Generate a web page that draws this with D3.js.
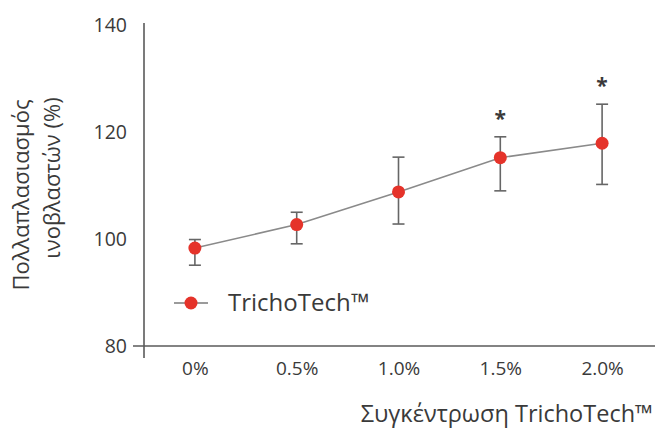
<!DOCTYPE html>
<html lang="el">
<head>
<meta charset="UTF-8">
<title>TrichoTech</title>
<script src="https://d3js.org/d3.v7.min.js"></script>
<style>
  body { margin: 0; background: #fff; }
  svg text { font-family: "Open Sans", "Noto Sans", sans-serif; fill: #3a3a3a; }
</style>
</head>
<body>
<div id="chart"></div>
<script>
// data
const categories = ["0%", "0.5%", "1.0%", "1.5%", "2.0%"];
const values = [98.3, 102.7, 108.8, 115.2, 117.9];
const errLow = [95.1, 99.1, 102.8, 109.0, 110.2];
const errHigh = [99.9, 105.0, 115.3, 119.1, 125.2];
const significant = [false, false, false, true, true];
const yTicks = [80, 100, 120, 140];
const seriesName = "TrichoTech™";
const xTitle = "Συγκέντρωση TrichoTech™";
const yTitle = ["Πολλαπλασιασμός", "ινοβλαστών (%)"];

const width = 655, height = 430;
const svg = d3.select("#chart").append("svg")
    .attr("width", width)
    .attr("height", height);

const x = d3.scalePoint()
    .domain(categories)
    .range([144, 653])
    .padding(0.5);
const y = d3.scaleLinear()
    .domain([80, 140])
    .range([346, 25]);

const axisColor = "#5a5a5a";

// axis lines (they cross at the corner)
svg.append("line")
    .attr("x1", x.range()[0]).attr("x2", x.range()[0])
    .attr("y1", y(140) - 2).attr("y2", y(80) + 12)
    .attr("stroke", axisColor).attr("stroke-width", 1.6);
svg.append("line")
    .attr("x1", x.range()[0] - 11).attr("x2", width)
    .attr("y1", y(80)).attr("y2", y(80))
    .attr("stroke", axisColor).attr("stroke-width", 1.6);

// tick labels
const yAxis = svg.append("g")
    .attr("transform", "translate(" + (x.range()[0] - 17) + ",0)")
    .call(d3.axisLeft(y).tickValues(yTicks).tickSize(0).tickPadding(0));
yAxis.select(".domain").remove();
yAxis.selectAll("text")
    .attr("font-size", 19.5)
    .attr("dy", "0.35em")
    .attr("fill", "#3a3a3a")
    .style("font-family", "'Open Sans', sans-serif");

const xAxis = svg.append("g")
    .attr("transform", "translate(0," + (y(80) + 15) + ")")
    .call(d3.axisBottom(x).tickSize(0).tickPadding(0));
xAxis.select(".domain").remove();
xAxis.selectAll("text")
    .attr("font-size", 19)
    .attr("dy", "0.71em")
    .attr("fill", "#3a3a3a")
    .style("font-family", "'Open Sans', sans-serif");

// axis titles
svg.append("text")
    .attr("x", 653)
    .attr("y", 422)
    .attr("text-anchor", "end")
    .attr("font-size", 23.5)
    .text(xTitle);

yTitle.forEach((t, i) => {
    svg.append("text")
        .attr("transform", "translate(" + (29 + i * 31) + "," + (i === 0 ? 195 : 178) + ") rotate(-90)")
        .attr("text-anchor", "middle")
        .attr("font-size", 22)
        .text(t);
});

const pts = categories.map((c, i) => ({
    c: c, v: values[i], lo: errLow[i], hi: errHigh[i], sig: significant[i]
}));

// connecting line
svg.append("path")
    .datum(pts)
    .attr("fill", "none")
    .attr("stroke", "#8a8a8a")
    .attr("stroke-width", 1.6)
    .attr("d", d3.line().x(d => x(d.c)).y(d => y(d.v)));

// error bars
const eb = svg.selectAll("g.err")
    .data(pts)
    .enter().append("g")
    .attr("class", "err")
    .attr("stroke", "#666")
    .attr("stroke-width", 1.6);
eb.append("line")
    .attr("x1", d => x(d.c)).attr("x2", d => x(d.c))
    .attr("y1", d => y(d.lo)).attr("y2", d => y(d.hi));
eb.append("line")
    .attr("x1", d => x(d.c) - 6).attr("x2", d => x(d.c) + 6)
    .attr("y1", d => y(d.lo)).attr("y2", d => y(d.lo));
eb.append("line")
    .attr("x1", d => x(d.c) - 6).attr("x2", d => x(d.c) + 6)
    .attr("y1", d => y(d.hi)).attr("y2", d => y(d.hi));

// markers
svg.selectAll("circle.pt")
    .data(pts)
    .enter().append("circle")
    .attr("class", "pt")
    .attr("cx", d => x(d.c))
    .attr("cy", d => y(d.v))
    .attr("r", 6.5)
    .attr("fill", "#e5332a");

// significance stars
svg.selectAll("text.star")
    .data(pts.filter(d => d.sig))
    .enter().append("text")
    .attr("class", "star")
    .attr("x", d => x(d.c))
    .attr("y", d => y(d.hi) - 11)
    .attr("text-anchor", "middle")
    .attr("font-size", 21)
    .attr("font-weight", "bold")
    .attr("fill", "#333")
    .text("*");

// legend
const lg = svg.append("g").attr("transform", "translate(191,303)");
lg.append("line")
    .attr("x1", -17).attr("x2", 17)
    .attr("stroke", "#7a7a7a").attr("stroke-width", 1.6);
lg.append("circle").attr("r", 6.5).attr("fill", "#e5332a");
lg.append("text")
    .attr("x", 37)
    .attr("dy", "0.35em")
    .attr("font-size", 24)
    .text(seriesName);
</script>
</body>
</html>
